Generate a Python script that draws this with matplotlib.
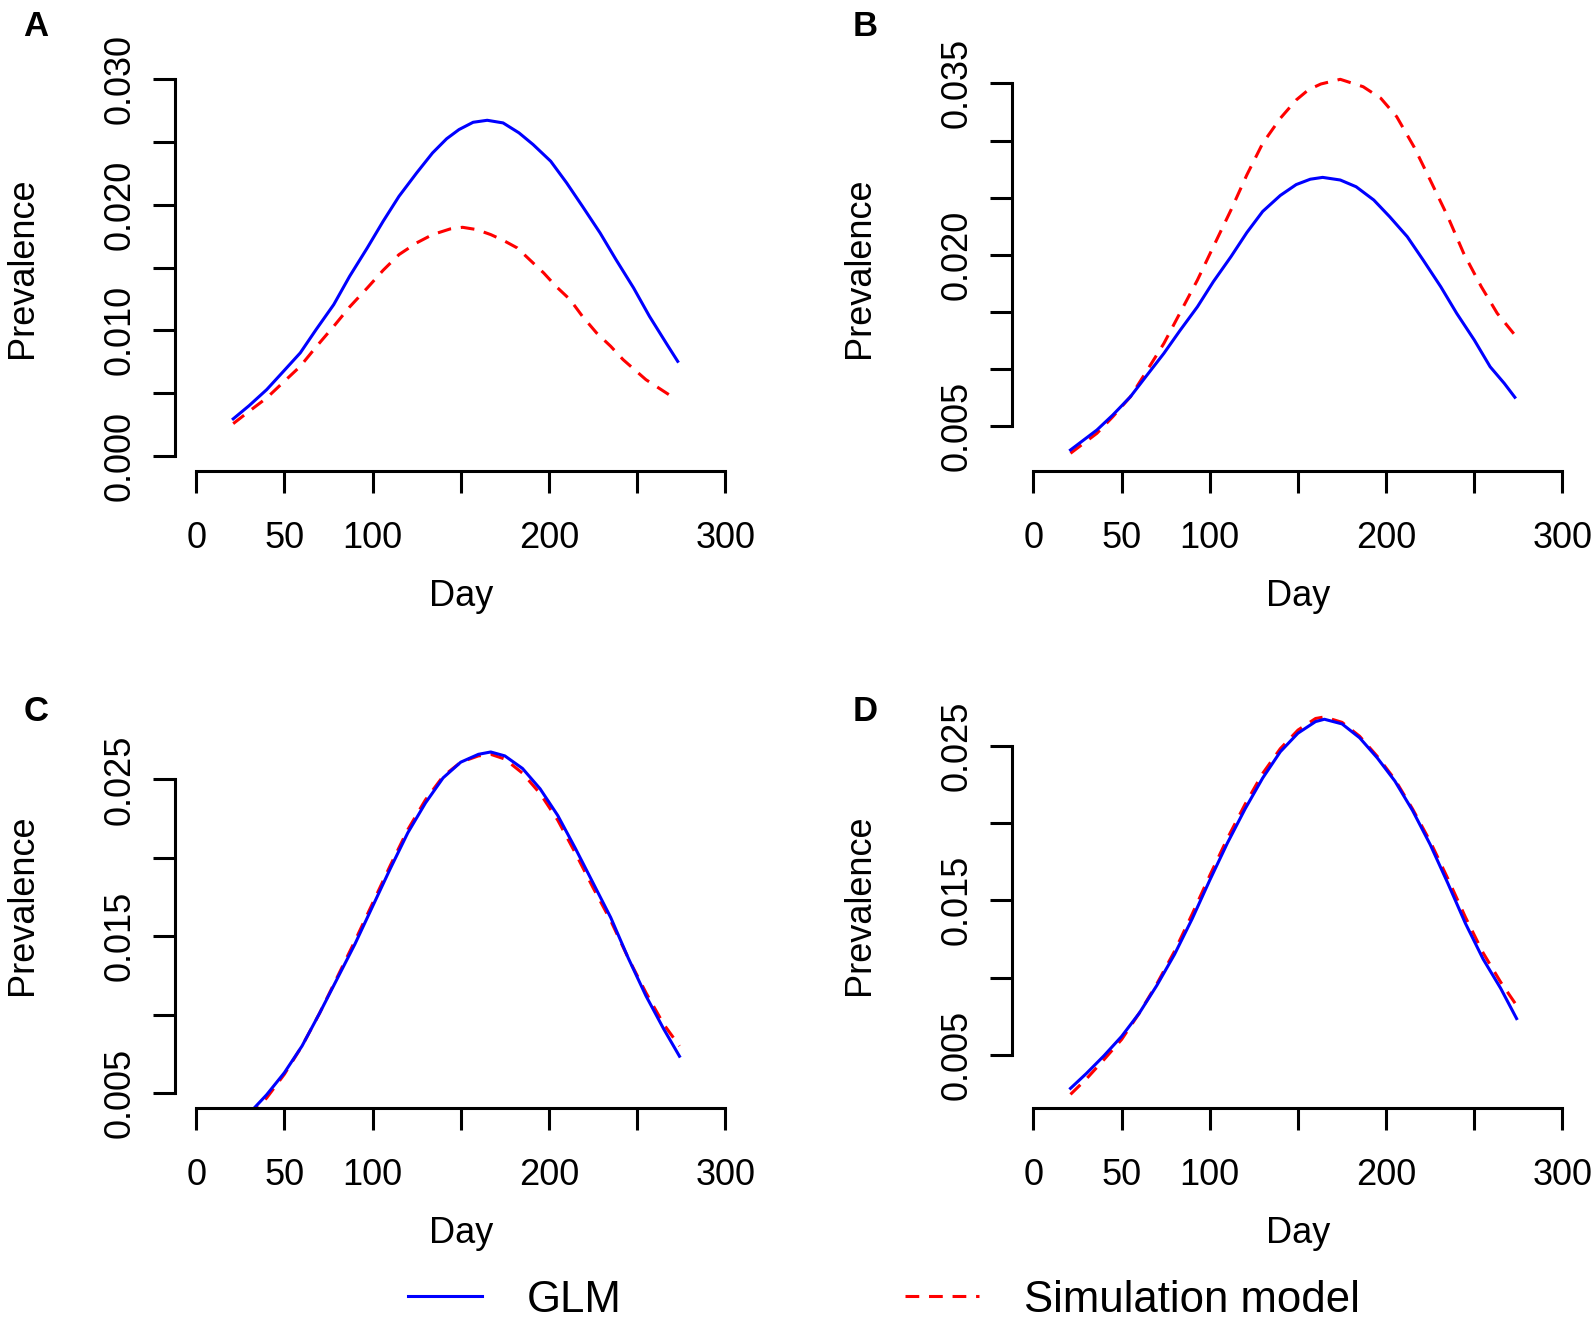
import matplotlib
matplotlib.use("Agg")
import matplotlib.pyplot as plt

plt.rcParams["font.family"] = ["Liberation Sans", "DejaVu Sans"]

# --- values (day, prevalence) ---
A_GLM_DAY = [21, 30, 40, 49, 59, 68, 78, 87, 97, 106, 115, 125, 134, 142, 149, 157, 165,
             174, 183, 191, 201, 210, 219, 229, 238, 248, 257, 267, 273]
A_GLM = [0.00295, 0.0040, 0.00528, 0.00666, 0.0082, 0.01006, 0.01205, 0.0143, 0.01656,
         0.01868, 0.02067, 0.02253, 0.02412, 0.02525, 0.02598, 0.02656, 0.02672, 0.02651,
         0.02572, 0.02479, 0.02346, 0.02174, 0.01987, 0.01775, 0.01563, 0.01337, 0.01111,
         0.00886, 0.00753]
A_SIM_DAY = [21, 30, 40, 49, 59, 68, 78, 87, 97, 106, 115, 125, 134, 144, 151, 159,
             167, 174, 182, 189, 197, 204, 212, 219, 227, 235, 242, 255, 268]
A_SIM = [0.00257, 0.00355, 0.00462, 0.00581, 0.00713, 0.00868, 0.01032, 0.01186, 0.01337,
         0.01478, 0.01603, 0.01696, 0.01762, 0.01807, 0.0182, 0.01802, 0.01762, 0.01717,
         0.01656, 0.01563, 0.01457, 0.0135, 0.01244, 0.01111, 0.00979, 0.00873, 0.00767,
         0.00607, 0.00488]

B_GLM_DAY = [21, 36, 45, 55, 64, 74, 83, 93, 102, 112, 121, 130, 140, 149, 157, 164, 174,
             183, 193, 202, 212, 221, 231, 240, 250, 259, 267, 273]
B_GLM = [0.00293, 0.00468, 0.00599, 0.00759, 0.0094, 0.01139, 0.01336, 0.01546, 0.01765,
         0.01984, 0.02195, 0.0238, 0.0252, 0.02615, 0.02662, 0.02678, 0.02655, 0.02596,
         0.0248, 0.02334, 0.02159, 0.01955, 0.01721, 0.01489, 0.01255, 0.01021, 0.00876,
         0.00754]
B_SIM_DAY = [21, 36, 45, 55, 64, 74, 83, 93, 102, 112, 121, 130, 140, 149, 156, 163, 174,
             187, 197, 206, 216, 225, 235, 244, 254, 263, 273]
B_SIM = [0.00264, 0.00439, 0.00584, 0.00759, 0.00978, 0.01226, 0.01489, 0.0178, 0.02071,
         0.02392, 0.02699, 0.02976, 0.03195, 0.03355, 0.03445, 0.03495, 0.03536, 0.03471,
         0.0337, 0.03209, 0.0294, 0.02655, 0.02334, 0.02013, 0.01721, 0.01489, 0.01299]

C_DAY = [30, 40, 50, 60, 70, 80, 90, 100, 110, 120, 130, 140, 150, 160, 167, 175, 185,
         195, 205, 215, 225, 235, 245, 255, 265, 274]
C_GLM = [0.0037, 0.0049, 0.0063, 0.0080, 0.0101, 0.0123, 0.0145, 0.0169, 0.0193, 0.0216,
         0.0235, 0.0251, 0.0261, 0.0266, 0.02675, 0.0265, 0.0257, 0.0244, 0.0227, 0.0206,
         0.0184, 0.0162, 0.0136, 0.0112, 0.0091, 0.00735]
C_SIM = [0.0035, 0.0047, 0.0062, 0.0080, 0.0101, 0.0124, 0.0147, 0.0171, 0.0195, 0.0218,
         0.0237, 0.0252, 0.0261, 0.0265, 0.0266, 0.0263, 0.0254, 0.0241, 0.0224, 0.0203,
         0.0181, 0.0160, 0.0136, 0.0114, 0.0094, 0.0080]

D_DAY = [21, 30, 40, 50, 60, 70, 80, 90, 100, 110, 120, 130, 140, 150, 160, 165, 175,
         185, 195, 205, 215, 225, 235, 245, 255, 265, 274]
D_GLM = [0.00284, 0.0038, 0.00495, 0.0062, 0.0077, 0.0095, 0.0115, 0.0138, 0.0163, 0.0187,
         0.0209, 0.0229, 0.0246, 0.0258, 0.02655, 0.0267, 0.0264, 0.0255, 0.0242, 0.0227,
         0.0208, 0.0186, 0.0161, 0.0135, 0.0112, 0.0093, 0.00735]
D_SIM = [0.00245, 0.00345, 0.0047, 0.0060, 0.0077, 0.0096, 0.0117, 0.0141, 0.0166, 0.0190,
         0.0212, 0.0232, 0.0248, 0.0260, 0.02675, 0.02685, 0.0265, 0.0256, 0.0243, 0.0228,
         0.0209, 0.0188, 0.0164, 0.0139, 0.0116, 0.0097, 0.0082]

X_TICKS = [0, 50, 100, 150, 200, 250, 300]
X_LABELS = ["0", "50", "100", "", "200", "", "300"]

PANELS = [
    # letter, glm day/val, sim day/val, ylim, yticks, ytick labels
    ("A", A_GLM_DAY, A_GLM, A_SIM_DAY, A_SIM, (-0.0012, 0.0312),
     [0.000, 0.005, 0.010, 0.015, 0.020, 0.025, 0.030],
     ["0.000", "", "0.010", "", "0.020", "", "0.030"]),
    ("B", B_GLM_DAY, B_GLM, B_SIM_DAY, B_SIM, (0.00109, 0.0367),
     [0.005, 0.010, 0.015, 0.020, 0.025, 0.030, 0.035],
     ["0.005", "", "", "0.020", "", "", "0.035"]),
    ("C", C_DAY, C_GLM, C_DAY, C_SIM, (0.00405, 0.0300),
     [0.005, 0.010, 0.015, 0.020, 0.025],
     ["0.005", "", "0.015", "", "0.025"]),
    ("D", D_DAY, D_GLM, D_DAY, D_SIM, (0.00157, 0.02788),
     [0.005, 0.010, 0.015, 0.020, 0.025],
     ["0.005", "", "0.015", "", "0.025"]),
]

W, H = 1595, 1320
# plot regions in pixels: left, top, right, bottom
BOXES = [(175, 64, 746.5, 471), (1012.3, 64, 1583.6, 471),
         (175, 701, 746.5, 1108), (1012.3, 701, 1583.6, 1108)]
LETTER_XY = [(36, 27), (865, 27), (36, 711), (865, 711)]

fig = plt.figure(figsize=(W / 100, H / 100), dpi=100)
FS = 26
LW = 2.2

handles = None
for (letter, gd, gv, sd, sv, ylim, yt, ytl), (l, t, r, b), (lx, ly) in zip(PANELS, BOXES, LETTER_XY):
    ax = fig.add_axes([l / W, 1 - b / H, (r - l) / W, (b - t) / H])
    sim, = ax.plot(sd, sv, color="#FF0000", lw=LW, dashes=(4.5, 3.2), label="Simulation model")
    glm, = ax.plot(gd, gv, color="#0000FF", lw=LW, label="GLM")
    handles = [glm, sim]
    ax.set_xlim(-12, 312)
    ax.set_ylim(*ylim)
    ax.set_xticks(X_TICKS, X_LABELS)
    ax.set_yticks(yt, ytl)
    for s in ("top", "right"):
        ax.spines[s].set_visible(False)
    ax.spines["left"].set_bounds(yt[0], yt[-1])
    ax.spines["bottom"].set_bounds(0, 300)
    for s in ("left", "bottom"):
        ax.spines[s].set_linewidth(LW)
    ax.tick_params(axis="both", direction="out", length=16, width=LW, labelsize=FS)
    ax.tick_params(axis="x", pad=20)
    ax.tick_params(axis="y", pad=11, labelrotation=90)
    plt.setp(ax.get_yticklabels(), va="center")
    ax.set_xlabel("Day", fontsize=FS)
    ax.set_ylabel("Prevalence", fontsize=FS)
    ax.xaxis.set_label_coords(0.5, -0.265)
    ax.yaxis.set_label_coords(-0.236, 0.5)
    fig.text(lx / W, 1 - ly / H, letter, fontsize=25, fontweight="bold", ha="center", va="center")

fig.legend(handles, ["GLM", "Simulation model"], loc="center left",
           bbox_to_anchor=(408 / W, 1 - 1300 / H), ncol=2, frameon=False, fontsize=31.5,
           handlelength=1.7, handletextpad=1.02, columnspacing=6.47,
           borderpad=0, borderaxespad=0)

fig.savefig("out.png", dpi=100)
